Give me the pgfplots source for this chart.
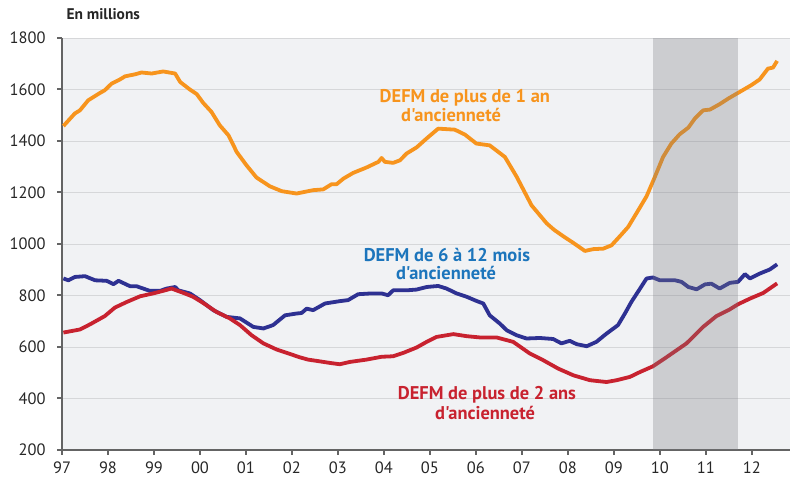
\documentclass[border=0pt]{standalone}
\usepackage{fontspec}
\setmainfont{PT Sans}[Ligatures=TeXOff]
\usepackage{pgfplots}
\pgfplotsset{compat=1.18}
\definecolor{cOr}{HTML}{F7941D}
\definecolor{cBl}{HTML}{2E3192}
\definecolor{cRd}{HTML}{C8222F}
\definecolor{cLb}{HTML}{1C75BC}
\definecolor{cBg}{HTML}{F1F2F4}
\definecolor{cAx}{HTML}{646464}
\definecolor{cGr}{HTML}{D6D7D9}
\definecolor{cSh}{RGB}{120,122,128}
\begin{document}
\begin{tikzpicture}[x=1bp,y=1bp]
\useasboundingbox (0,0) rectangle (791,482);
\node[anchor=west, font=\bfseries\fontsize{15.5}{18}\selectfont, text=black!85] at (63,468) {En millions};
\begin{axis}[at={(62bp,32bp)}, anchor=south west, scale only axis, width=728bp, height=412bp,
  xmin=1997, xmax=2012.83, ymin=200, ymax=1800,
  axis lines*=left, axis line style={cAx, line width=2.5bp},
  xtick={1997,1998,...,2012},
  xticklabels={97,98,99,00,01,02,03,04,05,06,07,08,09,10,11,12},
  ytick={200,400,...,1800},
  tick align=outside, major tick length=5bp,
  tick style={cAx, line width=2bp},
  ymajorgrids, grid style={cGr, line width=0.8bp},
  axis background/.style={fill=cBg},
  tick label style={font=\fontsize{16.5}{19}\selectfont, text=black!85},
  yticklabel style={xshift=-8bp},
  xticklabel style={yshift=-3bp},
  /pgf/number format/assume math mode=true,
  /pgf/number format/1000 sep={},
  clip=false,
]
\addplot[cBl, line width=3.8bp, line join=round] coordinates {
(1997.03,866)(1997.14,859)(1997.28,872)(1997.50,875)(1997.72,859)(1997.97,857)
(1998.12,844)(1998.23,857)(1998.48,836)(1998.62,836)(1998.91,818)(1999.13,818)
(1999.28,827)(1999.46,833)(1999.53,820)(1999.78,808)(2000.00,782)(2000.29,743)
(2000.58,717)(2000.87,711)(2001.16,678)(2001.38,672)(2001.59,685)(2001.85,723)
(2002.10,730)(2002.21,732)(2002.32,749)(2002.46,743)(2002.72,769)(2003.04,778)
(2003.22,782)(2003.44,805)(2003.73,808)(2003.95,808)(2004.09,801)(2004.20,820)
(2004.49,820)(2004.71,823)(2004.93,833)(2005.18,837)(2005.36,827)(2005.58,808)
(2005.80,795)(2006.01,779)(2006.16,769)(2006.30,723)(2006.52,691)(2006.67,665)
(2006.88,646)(2007.10,633)(2007.39,635)(2007.68,631)(2007.86,614)(2008.04,624)
(2008.19,611)(2008.41,603)(2008.62,620)(2008.84,652)(2009.09,685)(2009.24,730)
(2009.38,775)(2009.57,827)(2009.71,866)(2009.85,870)(2010.00,859)(2010.33,859)
(2010.47,853)(2010.62,833)(2010.80,824)(2010.98,843)(2011.12,846)(2011.30,827)
(2011.52,849)(2011.70,853)(2011.85,883)(2011.96,866)(2012.17,885)(2012.39,901)
(2012.55,921)};
\addplot[cRd, line width=3.8bp, line join=round] coordinates {
(1997.03,656)(1997.39,668)(1997.61,688)(1997.93,720)(1998.15,753)(1998.41,775)
(1998.70,797)(1998.98,808)(1999.20,818)(1999.38,827)(1999.64,810)(1999.85,795)
(2000.07,771)(2000.36,736)(2000.65,711)(2000.87,685)(2001.12,646)(2001.38,614)
(2001.67,590)(2001.89,577)(2002.17,560)(2002.35,551)(2002.54,546)(2002.83,538)
(2003.04,533)(2003.26,542)(2003.62,551)(2003.95,562)(2004.20,564)(2004.42,577)
(2004.71,598)(2004.93,620)(2005.14,639)(2005.51,650)(2005.80,642)(2006.09,637)
(2006.45,637)(2006.81,620)(2007.17,575)(2007.46,549)(2007.79,516)(2008.12,490)
(2008.48,471)(2008.84,464)(2009.06,471)(2009.35,484)(2009.57,503)(2009.85,525)
(2010.15,561)(2010.58,614)(2010.94,678)(2011.23,720)(2011.52,746)(2011.70,766)
(2011.96,788)(2012.25,810)(2012.55,847)};
\addplot[cOr, line width=3.8bp, line join=round] coordinates {
(1997.03,1458)(1997.28,1507)(1997.39,1519)(1997.57,1558)(1997.83,1587)(1997.93,1597)
(1998.08,1623)(1998.26,1639)(1998.37,1651)(1998.59,1659)(1998.73,1666)(1998.95,1662)
(1999.20,1670)(1999.46,1662)(1999.57,1629)(1999.78,1600)(1999.93,1582)(2000.07,1548)
(2000.25,1513)(2000.43,1461)(2000.62,1422)(2000.80,1357)(2001.01,1306)(2001.23,1258)
(2001.52,1224)(2001.78,1205)(2002.10,1196)(2002.35,1205)(2002.46,1209)(2002.68,1212)
(2002.86,1232)(2002.97,1232)(2003.12,1254)(2003.33,1276)(2003.62,1297)(2003.88,1319)
(2003.95,1334)(2004.02,1319)(2004.20,1315)(2004.35,1325)(2004.49,1351)(2004.71,1375)
(2004.93,1410)(2005.18,1448)(2005.36,1446)(2005.54,1444)(2005.76,1425)(2006.01,1390)
(2006.30,1383)(2006.63,1338)(2006.88,1263)(2007.21,1150)(2007.54,1080)(2007.70,1055)
(2007.90,1030)(2008.12,1004)(2008.37,973)(2008.55,980)(2008.77,982)(2008.95,995)
(2009.13,1030)(2009.31,1066)(2009.53,1131)(2009.71,1185)(2009.89,1260)(2010.07,1338)
(2010.25,1390)(2010.43,1426)(2010.62,1452)(2010.76,1487)(2010.94,1519)(2011.09,1522)
(2011.30,1543)(2011.49,1565)(2011.74,1591)(2011.99,1617)(2012.17,1639)(2012.35,1681)
(2012.46,1685)(2012.55,1711)};
\addplot[draw=none, fill=cSh, fill opacity=0.3] coordinates {
(2009.85,200)(2009.85,1800)(2011.70,1800)(2011.70,200)} -- cycle;
\node[text=cOr, font=\bfseries\fontsize{18.5}{22}\selectfont] at (axis cs:2005.76,1566) {DEFM de plus de 1 an};
\node[text=cOr, font=\bfseries\fontsize{18.5}{22}\selectfont] at (axis cs:2005.46,1500) {d'ancienneté};
\node[text=cLb, font=\bfseries\fontsize{18.5}{22}\selectfont] at (axis cs:2005.37,956) {DEFM de 6 à 12 mois};
\node[text=cLb, font=\bfseries\fontsize{18.5}{22}\selectfont] at (axis cs:2005.35,886) {d'ancienneté};
\node[text=cRd, font=\bfseries\fontsize{18.5}{22}\selectfont] at (axis cs:2006.24,413) {DEFM de plus de 2 ans};
\node[text=cRd, font=\bfseries\fontsize{18.5}{22}\selectfont] at (axis cs:2006.20,343) {d'ancienneté};
\end{axis}
\end{tikzpicture}
\end{document}
